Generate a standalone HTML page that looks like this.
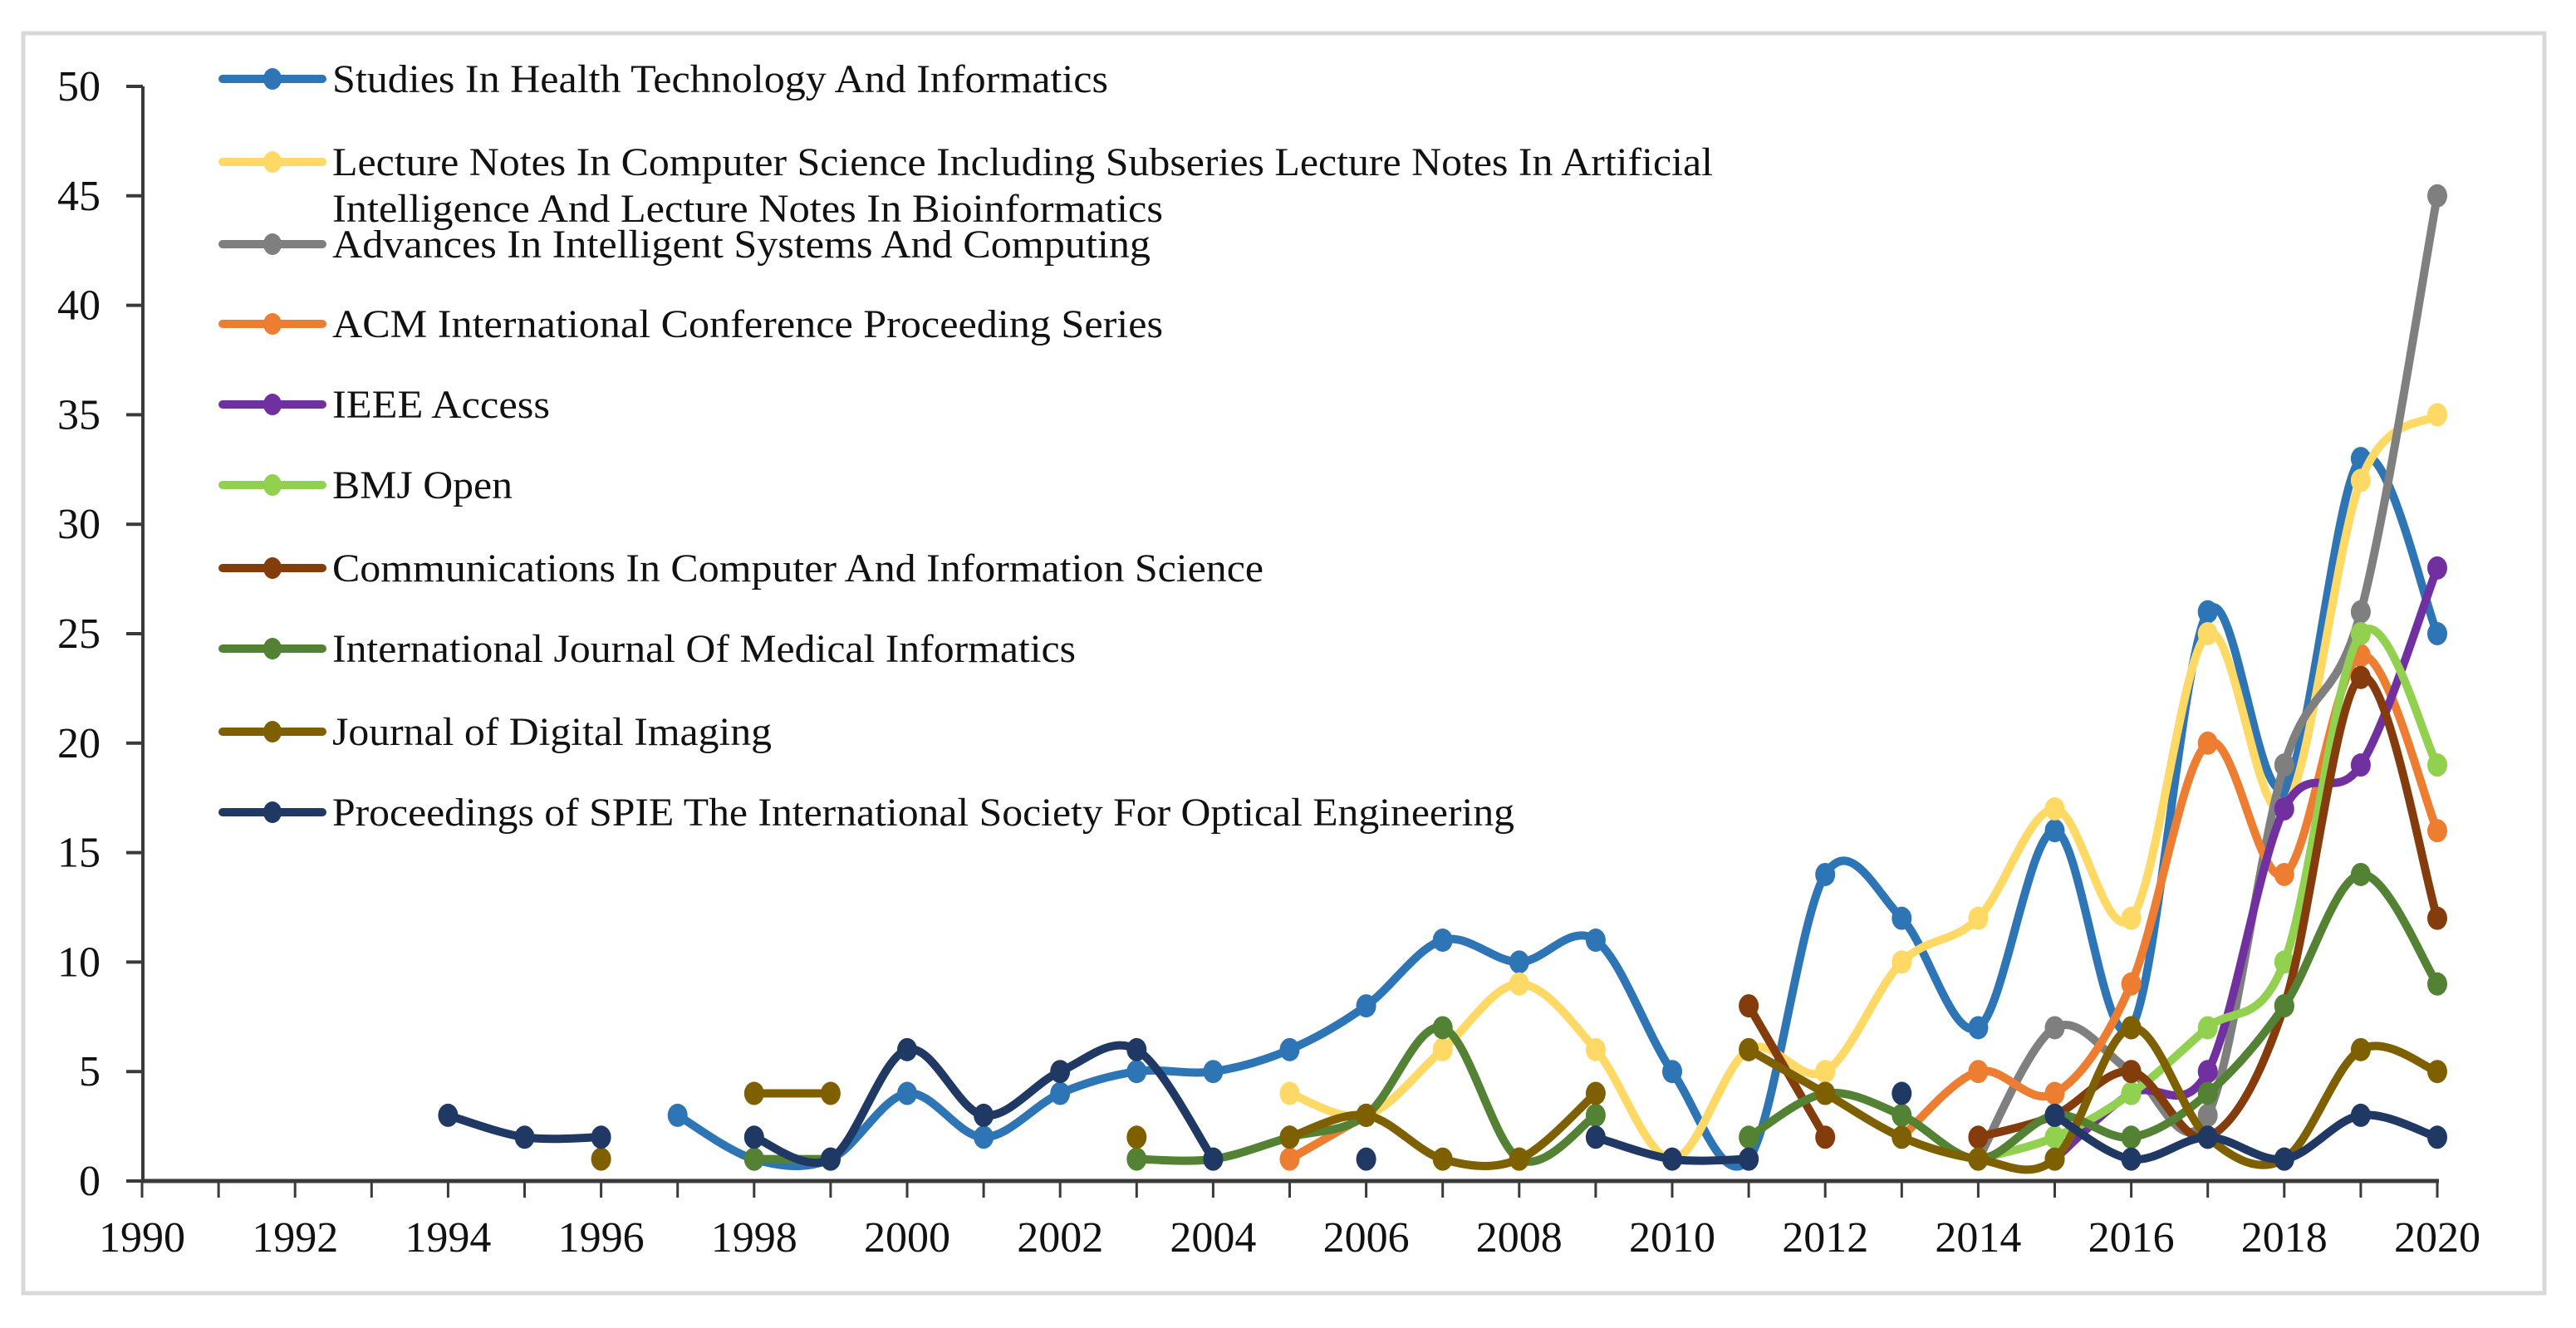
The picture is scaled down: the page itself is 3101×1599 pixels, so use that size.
<!DOCTYPE html>
<html><head><meta charset="utf-8"><style>
html,body{margin:0;padding:0;background:#fff;}
svg{display:block;font-family:"Liberation Serif","Times New Roman",serif;}
</style></head><body>
<svg id="chart" width="3101" height="1599" viewBox="0 0 3101 1599" xmlns="http://www.w3.org/2000/svg">
<rect x="28" y="40" width="3035" height="1517" fill="#fff" stroke="#d9d9d9" stroke-width="5"/>
<g id="axes"></g>
<g id="series"></g>
<g id="legend"></g>
</svg>
<script>
const years = [1990,1991,1992,1993,1994,1995,1996,1997,1998,1999,2000,2001,2002,2003,2004,2005,2006,2007,2008,2009,2010,2011,2012,2013,2014,2015,2016,2017,2018,2019,2020];
const yTicks = [0,5,10,15,20,25,30,35,40,45,50];
const xTickLabels = [1990,1992,1994,1996,1998,2000,2002,2004,2006,2008,2010,2012,2014,2016,2018,2020];
const n = null;
const studiesHealth = [n,n,n,n,n,n,n,3,1,1,4,2,4,5,5,6,8,11,10,11,5,1,14,12,7,16,7,26,18,33,25];
const lectureNotes  = [n,n,n,n,n,n,n,n,n,n,n,n,n,n,n,4,3,6,9,6,1,6,5,10,12,17,12,25,17,32,35];
const advancesIntel = [n,n,n,n,n,n,n,n,n,n,n,n,n,n,n,n,n,n,n,n,n,n,n,n,1,7,5,3,19,26,45];
const acmProc       = [n,n,n,n,n,n,n,n,n,n,n,n,n,n,n,1,3,n,n,n,n,n,n,2,5,4,9,20,14,24,16];
const ieeeAccess    = [n,n,n,n,n,n,n,n,n,n,n,n,n,n,n,n,n,n,n,n,n,n,n,n,n,1,4,5,17,19,28];
const bmjOpen       = [n,n,n,n,n,n,n,n,n,n,n,n,n,n,n,n,n,n,n,n,n,n,n,n,1,2,4,7,10,25,19];
const commCIS       = [n,n,n,n,n,n,n,n,n,n,n,n,n,n,n,n,n,n,n,n,n,8,2,n,2,3,5,2,8,23,12];
const ijmi          = [n,n,n,n,n,n,n,n,1,1,n,n,n,1,1,2,3,7,1,3,n,2,4,3,1,3,2,4,8,14,9];
const jdi           = [n,n,n,n,n,n,1,n,4,4,n,n,n,2,n,2,3,1,1,4,n,6,4,2,1,1,7,2,1,6,5];
const spie          = [n,n,n,n,3,2,2,n,2,1,6,3,5,6,1,n,1,n,n,2,1,1,n,4,n,3,1,2,1,3,2];

const seriesList = [
 {name:"studies-in-health-technology",data:studiesHealth,color:"#2e75b6",label:["Studies In Health Technology And Informatics"],tl:[934]},
 {name:"lecture-notes-in-computer-science",data:lectureNotes,color:"#ffd966",label:["Lecture Notes In Computer Science Including Subseries Lecture Notes In Artificial","Intelligence And Lecture Notes In Bioinformatics"],tl:[1662,1000]},
 {name:"advances-in-intelligent-systems",data:advancesIntel,color:"#7f7f7f",label:["Advances In Intelligent Systems And Computing"],tl:[985]},
 {name:"acm-conference-proceeding",data:acmProc,color:"#ed7d31",label:["ACM International Conference Proceeding Series"],tl:[1000]},
 {name:"ieee-access",data:ieeeAccess,color:"#7030a0",label:["IEEE Access"],tl:[262]},
 {name:"bmj-open",data:bmjOpen,color:"#92d050",label:["BMJ Open"],tl:[217]},
 {name:"communications-in-computer-science",data:commCIS,color:"#843c0c",label:["Communications In Computer And Information Science"],tl:[1121]},
 {name:"intl-journal-medical-informatics",data:ijmi,color:"#548235",label:["International Journal Of Medical Informatics"],tl:[895]},
 {name:"journal-of-digital-imaging",data:jdi,color:"#7f6000",label:["Journal of Digital Imaging"],tl:[529]},
 {name:"proceedings-of-spie",data:spie,color:"#203864",label:["Proceedings of SPIE The International Society For Optical Engineering"],tl:[1423]}
];
const legendY = [95,195,294,390,487,584,684,781,881,978];

const NS="http://www.w3.org/2000/svg";
const X0=171, XW=92.1, Y0=1422, YU=26.36;
const xScale = y => X0 + (y-1990)*XW;
const yScale = v => Y0 - v*YU;
function mk(tag, attrs, parent){const e=document.createElementNS(NS,tag);for(const k in attrs)e.setAttribute(k,attrs[k]);parent.appendChild(e);return e;}

const axes=document.getElementById('axes');
let yl=mk('line',{x1:172,y1:yScale(50),x2:172,y2:Y0,stroke:"#3a3a3a","stroke-width":4},axes);


yTicks.forEach(t=>{
  const tk=mk('line',{x1:152,y1:yScale(t),x2:172,y2:yScale(t),stroke:"#3a3a3a","stroke-width":4},axes);
  
  
  const tx=mk('text',{x:121,y:yScale(t)+17,"text-anchor":"end","font-size":52,fill:"#111"},axes);
  tx.textContent=t;
  
  
});
let xl=mk('line',{x1:170,y1:Y0,x2:xScale(2020)+2,y2:Y0,stroke:"#3a3a3a","stroke-width":5},axes);


years.forEach(y=>{
  const tk=mk('line',{x1:xScale(y),y1:Y0,x2:xScale(y),y2:Y0+20,stroke:"#3a3a3a","stroke-width":3},axes);
  
  
});
xTickLabels.forEach(y=>{
  const tx=mk('text',{x:xScale(y),y:1507,"text-anchor":"middle","font-size":52,fill:"#111"},axes);
  tx.textContent=y;
  
  
});

function crPath(pts){
  if(pts.length===1) return null;
  let d=`M${pts[0][0]},${pts[0][1]}`;
  for(let i=0;i<pts.length-1;i++){
    const p0=pts[i-1]||pts[i], p1=pts[i], p2=pts[i+1], p3=pts[i+2]||p2;
    const t=1/6;
    const c1=[p1[0]+(p2[0]-p0[0])*t, p1[1]+(p2[1]-p0[1])*t];
    const c2=[p2[0]-(p3[0]-p1[0])*t, p2[1]-(p3[1]-p1[1])*t];
    d+=` C${c1[0]},${c1[1]} ${c2[0]},${c2[1]} ${p2[0]},${p2[1]}`;
  }
  return d;
}
const sg=document.getElementById('series');
seriesList.forEach(s=>{
  const g=mk('g',{},sg);
  
  
  let runs=[],cur=[];
  s.data.forEach((v,i)=>{ if(v===null){ if(cur.length)runs.push(cur); cur=[]; } else cur.push([xScale(years[i]),yScale(v)]); });
  if(cur.length)runs.push(cur);
  runs.forEach(r=>{
    const d=crPath(r);
    if(d){
      const p=mk('path',{d:d,fill:"none",stroke:s.color,"stroke-width":10,"stroke-linejoin":"round","stroke-linecap":"round"},g);
      
      
    }
    r.forEach(pt=>{
      const c=mk('ellipse',{cx:pt[0],cy:pt[1],rx:12,ry:14,fill:s.color},g);
      
      
    });
  });
});
const lg=document.getElementById('legend');
seriesList.forEach((s,i)=>{
  const y=legendY[i];
  const g=mk('g',{},lg);
  
  
  mk('line',{x1:268,y1:y,x2:388,y2:y,stroke:s.color,"stroke-width":10,"stroke-linecap":"round"},g);
  mk('ellipse',{cx:328,cy:y,rx:11,ry:13,fill:s.color},g);
  s.label.forEach((ln,j)=>{
    const t=mk('text',{x:400,y:y+16+j*56,"font-size":48,fill:"#111",textLength:s.tl[j],lengthAdjust:"spacingAndGlyphs"},g);
    t.textContent=ln;
    
    
  });
});
</script>
</body></html>
